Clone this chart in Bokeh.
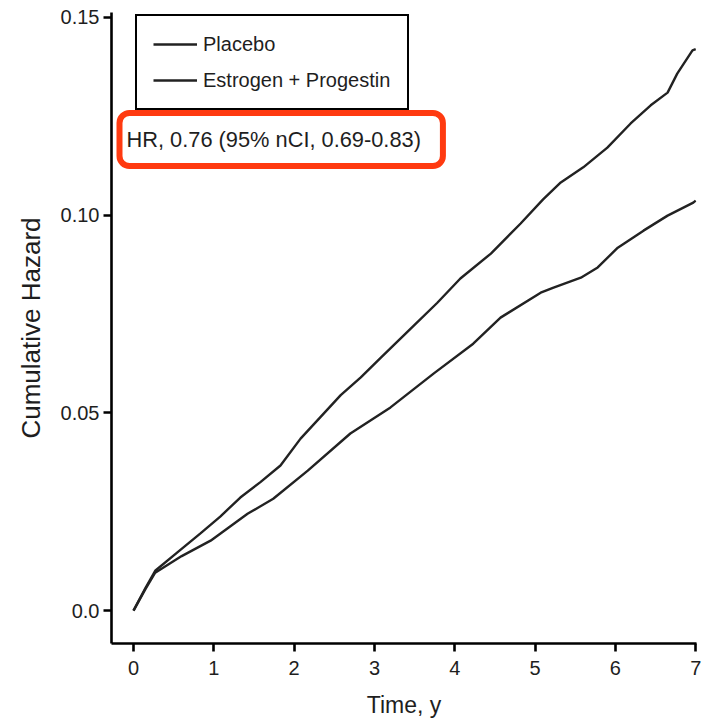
from bokeh.plotting import figure
from bokeh.models import Range1d, FixedTicker, Legend, LegendItem, Label
from bokeh.embed import file_html
from bokeh.resources import INLINE

# ---- data ----
placebo_time = [0, 0.15, 0.27, 0.55, 0.83, 1.08, 1.33, 1.58, 1.83, 2.08, 2.33, 2.58, 2.83,
                3.08, 3.49, 3.78, 4.07, 4.45, 4.82, 5.10, 5.32, 5.60, 5.90, 6.19, 6.44,
                6.65, 6.77, 6.96, 7.0]
placebo_hazard = [0, 0.0058, 0.0101, 0.0148, 0.0195, 0.0238, 0.0286, 0.0325, 0.0367, 0.0435,
                  0.0490, 0.0545, 0.0590, 0.0640, 0.0721, 0.0778, 0.0840, 0.0903, 0.0979,
                  0.1040, 0.1083, 0.1121, 0.1171, 0.1232, 0.1278, 0.1310, 0.1358, 0.1417, 0.1420]

ep_time = [0, 0.15, 0.27, 0.60, 0.96, 1.42, 1.74, 2.17, 2.70, 3.20, 3.74, 4.23, 4.57,
           5.07, 5.23, 5.57, 5.78, 6.03, 6.35, 6.65, 6.97, 7.0]
ep_hazard = [0, 0.0055, 0.0096, 0.0138, 0.0177, 0.0245, 0.0283, 0.0354, 0.0448, 0.0514,
             0.0600, 0.0675, 0.0741, 0.0804, 0.0817, 0.0842, 0.0868, 0.0918, 0.0961,
             0.0999, 0.1032, 0.1037]

x_ticks = [0, 1, 2, 3, 4, 5, 6, 7]
y_ticks = [0.0, 0.05, 0.10, 0.15]
y_tick_labels = ["0.0", "0.05", "0.10", "0.15"]
series_names = ["Placebo", "Estrogen + Progestin"]
hr_text = "HR, 0.76 (95% nCI, 0.69-0.83)"

FONT = "Liberation Sans"
TXT = "#1e1e1e"

p = figure(width=708, height=725, output_backend="svg", toolbar_location=None,
           x_range=Range1d(-0.274, 7.01), y_range=Range1d(-0.0083, 0.15126),
           min_border_left=111, min_border_right=12, min_border_top=12, min_border_bottom=82)
p.outline_line_color = None
p.grid.visible = False
p.background_fill_color = "white"
p.border_fill_color = "white"

r1 = p.line(placebo_time, placebo_hazard, line_color="#222222", line_width=2.4)
r2 = p.line(ep_time, ep_hazard, line_color="#222222", line_width=2.4)

for ax in (p.xaxis[0], p.yaxis[0]):
    ax.axis_line_width = 2.6
    ax.axis_line_color = "black"
    ax.major_tick_line_width = 2.6
    ax.major_tick_line_color = "black"
    ax.major_tick_out = 8
    ax.major_tick_in = 0
    ax.minor_tick_line_color = None
    ax.major_label_text_font = FONT
    ax.major_label_text_font_size = "20px"
    ax.major_label_text_color = TXT
    ax.axis_label_text_font = FONT
    ax.axis_label_text_font_style = "normal"
    ax.axis_label_text_color = TXT

p.xaxis.ticker = FixedTicker(ticks=x_ticks)
p.yaxis.ticker = FixedTicker(ticks=y_ticks)
p.yaxis.major_label_overrides = {t: l for t, l in zip(y_ticks, y_tick_labels)}
p.yaxis.major_label_standoff = 4
p.xaxis.major_label_standoff = 9
p.xaxis.axis_label = "Time, y"
p.yaxis.axis_label = "Cumulative Hazard"
p.xaxis.axis_label_text_font_size = "23px"
p.yaxis.axis_label_text_font_size = "26px"
p.xaxis.axis_label_standoff = 14
p.yaxis.axis_label_standoff = 12

legend = Legend(items=[LegendItem(label=series_names[0], renderers=[r1]),
                       LegendItem(label=series_names[1], renderers=[r2])],
                location=(24, 533), orientation="vertical",
                label_text_font=FONT, label_text_font_size="20px", label_text_color=TXT,
                label_height=24, glyph_height=24, glyph_width=44, label_standoff=6,
                label_width=188, spacing=12, padding=16, margin=0,
                border_line_color="black", border_line_width=2.6, border_line_alpha=1.0,
                background_fill_color="white", background_fill_alpha=1.0)
p.add_layout(legend, "center")

hr = Label(x=8, y=504, x_units="screen", y_units="screen", text=hr_text,
           text_font=FONT, text_font_size="21.8px", text_color=TXT,
           text_baseline="middle", text_align="left",
           border_line_color="#ff3a10", border_line_width=6, border_radius=10,
           background_fill_color="white", padding=(7, 22, 14, 14))
p.add_layout(hr)

open("out.html", "w").write(file_html(p, INLINE))
